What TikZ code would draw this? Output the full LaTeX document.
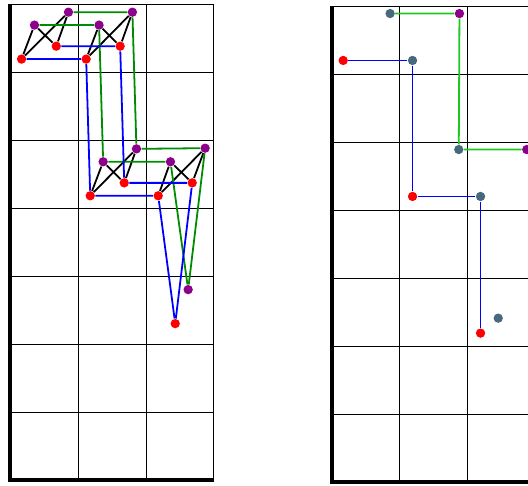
\documentclass[tikz,border=0pt]{standalone}
\usepackage{tikz,xcolor}
\definecolor{vtxpurple}{RGB}{140,0,140}
\definecolor{edgegreen}{RGB}{0,140,0}
\definecolor{litegreen}{RGB}{30,200,30}
\definecolor{slate}{RGB}{70,105,125}
\begin{document}
\begin{tikzpicture}[dot/.style={circle,fill=#1,inner sep=0pt,minimum size=3.9pt},
  link/.style={line width=.75pt,#1}]
  \useasboundingbox (-0.147,-0.074) rectangle (7.618,7.059);
  % fine level
  \begin{scope}[shift={(0,0)}]
    \draw[thin] (0,0) grid (3,7);
    \draw[line width=1.6pt] (0,7)--(0,0)--(3,0);
    \node[dot=vtxpurple] (p1) at (0.36,6.69) {};
    \node[dot=vtxpurple] (p2) at (0.86,6.88) {};
    \node[dot=vtxpurple] (p3) at (1.31,6.69) {};
    \node[dot=vtxpurple] (p4) at (1.80,6.88) {};
    \node[dot=vtxpurple] (p5) at (1.37,4.68) {};
    \node[dot=vtxpurple] (p6) at (1.86,4.87) {};
    \node[dot=vtxpurple] (p7) at (2.36,4.68) {};
    \node[dot=vtxpurple] (p8) at (2.87,4.88) {};
    \node[dot=vtxpurple] (p9) at (2.62,2.80) {};
    \node[dot=red] (r1) at (0.17,6.19) {};
    \node[dot=red] (r2) at (0.68,6.38) {};
    \node[dot=red] (r3) at (1.12,6.19) {};
    \node[dot=red] (r4) at (1.62,6.38) {};
    \node[dot=red] (r5) at (1.18,4.18) {};
    \node[dot=red] (r6) at (1.68,4.37) {};
    \node[dot=red] (r7) at (2.18,4.18) {};
    \node[dot=red] (r8) at (2.68,4.37) {};
    \node[dot=red] (r9) at (2.43,2.30) {};
    \foreach \pa/\pb/\ra/\rb in {p1/p2/r1/r2,p3/p4/r3/r4,p5/p6/r5/r6,p7/p8/r7/r8}
      \draw[link=black] (\pa)--(\ra) (\pa)--(\rb) (\pb)--(\ra) (\pb)--(\rb);
    \draw[link=edgegreen] (p1)--(p3) (p2)--(p4) (p3)--(p5) (p4)--(p6)
      (p5)--(p7) (p6)--(p8) (p7)--(p9) (p8)--(p9);
    \draw[link=blue] (r1)--(r3) (r2)--(r4) (r3)--(r5) (r4)--(r6)
      (r5)--(r7) (r6)--(r8) (r7)--(r9) (r8)--(r9);
  \end{scope}
  % coarse level
  \begin{scope}[shift={(4.73,-0.03)}]
    \draw[thin] (0,0) grid (3,7);
    \draw[line width=1.6pt] (0,7)--(0,0)--(3,0);
    \node[dot=slate] (s1) at (0.86,6.89) {};
    \node[dot=vtxpurple] (q1) at (1.88,6.89) {};
    \node[dot=red] (t1) at (0.17,6.20) {};
    \node[dot=slate] (s2) at (1.19,6.20) {};
    \node[dot=slate] (s3) at (1.87,4.89) {};
    \node[dot=vtxpurple] (q2) at (2.87,4.89) {};
    \node[dot=red] (t2) at (1.19,4.20) {};
    \node[dot=slate] (s4) at (2.19,4.20) {};
    \node[dot=red] (t3) at (2.19,2.19) {};
    \node[dot=slate] (s5) at (2.45,2.41) {};
    \draw[link=litegreen] (s1)--(q1) (q1)--(s3) (s3)--(q2);
    \draw[link=blue] (t1)--(s2) (s2)--(t2) (t2)--(s4) (s4)--(t3);
  \end{scope}
\end{tikzpicture}
\end{document}
